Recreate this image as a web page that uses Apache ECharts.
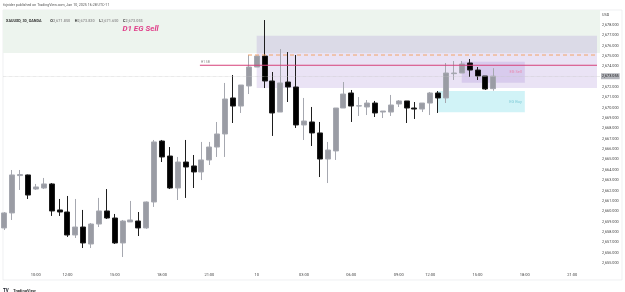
<!DOCTYPE html>
<html>
<head>
<meta charset="utf-8">
<script src="https://cdn.jsdelivr.net/npm/echarts/dist/echarts.min.js"></script>
<style>
  html, body { margin: 0; padding: 0; background: #fff; }
  #main { width: 625px; height: 292px; }
</style>
</head>
<body>
<div id="main"></div>
<script>
// XAUUSD 30m bars, index 0 = 08:00 (Jan 9)
var open = [2658.39, 2659.84, 2663.45, 2663.51, 2662.15, 2662.25, 2662.64, 2660.13, 2659.93, 2657.71,
    2658.48, 2656.84, 2658.77, 2660.03, 2659.35, 2656.94, 2658.97, 2659.06, 2658.39, 2660.90,
    2666.79, 2665.34, 2662.25, 2664.76, 2664.38, 2663.80, 2664.96, 2666.21, 2667.47, 2670.95,
    2670.17, 2672.11, 2673.94, 2675.00, 2672.59, 2669.59, 2672.49, 2672.01, 2668.34, 2668.63,
    2667.57, 2665.05, 2665.83, 2669.98, 2671.43, 2670.17, 2670.08, 2670.46, 2669.59, 2669.59,
    2670.37, 2670.66, 2669.98, 2669.88, 2670.46, 2671.43, 2670.95, 2673.30, 2673.36, 2674.33,
    2673.65, 2673.07, 2671.85];
var close = [2659.84, 2663.51, 2663.55, 2661.57, 2662.35, 2662.64, 2660.03, 2659.93, 2657.71, 2658.48,
    2656.94, 2658.77, 2660.03, 2659.35, 2656.94, 2659.06, 2659.16, 2658.39, 2660.90, 2666.70,
    2665.25, 2662.25, 2664.76, 2664.28, 2663.80, 2664.96, 2666.21, 2667.47, 2670.85, 2670.17,
    2672.20, 2673.94, 2675.00, 2672.59, 2669.50, 2672.40, 2672.01, 2668.34, 2668.72, 2667.57,
    2665.05, 2665.92, 2669.98, 2671.33, 2670.17, 2670.20, 2670.46, 2669.50, 2669.69, 2670.27,
    2670.66, 2669.98, 2669.88, 2670.46, 2671.43, 2670.95, 2673.36, 2673.36, 2674.23, 2673.65,
    2673.07, 2671.82, 2673.055];
var low = [2658.19, 2659.16, 2662.06, 2661.19, 2662.06, 2662.15, 2659.55, 2659.55, 2657.52, 2657.42,
    2656.45, 2656.45, 2658.48, 2659.26, 2656.84, 2655.58, 2658.97, 2657.61, 2658.30, 2660.42,
    2664.76, 2662.15, 2661.09, 2661.29, 2662.25, 2663.02, 2664.47, 2665.25, 2665.25, 2668.53,
    2669.50, 2671.33, 2673.94, 2671.91, 2667.28, 2669.59, 2670.56, 2668.05, 2666.89, 2666.31,
    2663.31, 2662.73, 2664.96, 2669.98, 2668.63, 2669.21, 2669.30, 2669.11, 2669.01, 2669.21,
    2670.08, 2668.53, 2668.92, 2669.59, 2669.30, 2669.50, 2670.46, 2672.69, 2673.36, 2672.98,
    2672.69, 2671.72, 2671.65];
var high = [2659.93, 2663.99, 2663.99, 2663.55, 2662.64, 2663.22, 2662.73, 2661.19, 2661.48, 2661.19,
    2660.13, 2658.87, 2661.29, 2662.15, 2659.74, 2659.16, 2661.00, 2659.93, 2660.95, 2666.89,
    2666.89, 2666.21, 2665.25, 2666.89, 2665.44, 2666.70, 2666.70, 2668.63, 2672.40, 2673.17,
    2672.20, 2675.10, 2675.05, 2678.48, 2673.46, 2675.68, 2675.39, 2675.10, 2670.95, 2670.08,
    2668.63, 2666.70, 2669.98, 2672.49, 2671.72, 2671.04, 2670.75, 2670.66, 2669.69, 2671.24,
    2670.75, 2670.66, 2670.56, 2670.46, 2671.53, 2671.62, 2674.33, 2674.52, 2674.52, 2674.71,
    2673.94, 2673.07, 2673.83];

// time scale labels (bar index -> text)
var tickIndex = [4, 8, 14, 20, 26, 32, 38, 44, 50, 54, 60, 66, 72];
var tickText = ["10:00", "12:00", "15:00", "18:00", "21:00", "10", "03:00", "06:00", "09:00", "12:00", "15:00", "18:00", "21:00"];
var priceTicks = [2655, 2656, 2657, 2658, 2659, 2660, 2661, 2662, 2663, 2664, 2665, 2666,
    2667, 2668, 2669, 2670, 2671, 2672, 2673, 2674, 2675, 2676, 2677, 2678];

// drawn levels / zones
var d1Zone = [2675.29, 2679.45];        // D1 EG Sell
var rangeBox = [32, 2676.97, 2671.91];  // from bar 32 to the right edge
var sbLevel = 2674.11;                  // H1 SB line
var sbStart = 24.8;
var dashLevel = 2675.10;                // orange dashed
var dashStart = 30.9;
var egSell = [58, 66, 2674.45, 2672.43];
var egBuy = [55, 66, 2671.62, 2669.57];

var xMin = -0.165, xMax = 75.53, xEnd = 75.15;
var yMin = 2654.52, yMax = 2679.45;

function fmt(v) {
    return v.toLocaleString("en-US", { minimumFractionDigits: 3, maximumFractionDigits: 3 });
}

var last = open.length - 1;
var candles = open.map(function (o, i) {
    return [i, o, close[i], low[i], high[i]];
});

var font = "Roboto";
var myChart = echarts.init(document.getElementById("main"));
var option = {
    animation: false,
    textStyle: { fontFamily: font },
    title: [
        {
            text: "fxjnider published on TradingView.com, Jan 10, 2025 16:28 UTC-11",
            left: 3, top: 3, padding: 0,
            textStyle: { fontSize: 3.6, fontWeight: "normal", color: "#555", fontFamily: font }
        },
        {
            text: "{s|XAUUSD, 30, OANDA}  {k|O}{v|" + fmt(open[last]) + "} {k|H}{v|" + fmt(high[last]) +
                "} {k|L}{v|" + fmt(low[last]) + "} {k|C}{v|" + fmt(close[last]) + "}",
            left: 6, top: 12, padding: 0,
            textStyle: {
                rich: {
                    s: { fontSize: 3.8, color: "#333", fontFamily: font },
                    k: { fontSize: 3.8, color: "#333", fontFamily: font },
                    v: { fontSize: 3.8, color: "#9a9a9a", fontFamily: font }
                }
            }
        },
        {
            text: "USD",
            left: 602, top: 13, padding: 0,
            textStyle: { fontSize: 3.8, fontWeight: "normal", color: "#444", fontFamily: font }
        },
        {
            text: "{b|TV} {t|TradingView}",
            left: 3, top: 282, padding: 0,
            textStyle: {
                rich: {
                    b: { fontSize: 4.5, fontWeight: "bold", color: "#131722", fontFamily: font },
                    t: { fontSize: 4, color: "#333", fontFamily: font }
                }
            }
        }
    ],
    graphic: [{
        type: "rect",
        shape: { x: 3, y: 10, width: 619, height: 270 },
        style: { fill: "none", stroke: "#e4e6ea", lineWidth: 0.6 },
        silent: true
    }],
    grid: { left: 3, right: 25, top: 10, bottom: 24 },
    xAxis: {
        type: "value",
        min: xMin,
        max: xMax,
        splitLine: { show: false },
        axisLine: { show: false },
        axisTick: { show: false },
        axisLabel: {
            customValues: tickIndex,
            formatter: function (v) {
                return tickText[tickIndex.indexOf(v)];
            },
            fontSize: 4,
            color: "#444",
            margin: 5
        }
    },
    yAxis: {
        type: "value",
        position: "right",
        min: yMin,
        max: yMax,
        splitLine: { show: false },
        axisLine: { show: false },
        axisTick: { show: false },
        axisLabel: {
            customValues: priceTicks,
            formatter: fmt,
            fontSize: 3.8,
            color: "#444",
            margin: 2,
            align: "left"
        }
    },
    series: [
        {
            type: "candlestick",
            data: candles,
            encode: { x: 0, y: [1, 2, 3, 4] },
            barWidth: 5.5,
            clip: true,
            z: 3,
            itemStyle: {
                color: "#9a9ca4",
                color0: "#000000",
                borderColor: "#a6a8b0",
                borderColor0: "#1e1e1e",
                borderWidth: 1
            },
            markArea: {
                silent: true,
                data: [
                    [{
                        yAxis: d1Zone[0],
                        itemStyle: { color: "#edf4ee" },
                        label: {
                            show: true,
                            formatter: "D1 EG Sell",
                            position: ["20%", "45%"],
                            align: "left",
                            verticalAlign: "middle",
                            fontSize: 8,
                            fontStyle: "italic",
                            fontWeight: "bold",
                            color: "#e0408a"
                        }
                    }, { yAxis: d1Zone[1] }],
                    [{
                        coord: [rangeBox[0], rangeBox[1]],
                        itemStyle: { color: "rgba(149,117,205,0.2)" },
                        label: { show: false }
                    }, { coord: [xEnd, rangeBox[2]] }],
                    [{
                        coord: [egSell[0], egSell[2]],
                        itemStyle: { color: "rgba(149,117,205,0.22)" },
                        label: {
                            show: true, formatter: "EG Sell", position: "insideRight", distance: 3,
                            fontSize: 4, color: "#e887ad"
                        }
                    }, { coord: [egSell[1], egSell[3]] }],
                    [{
                        coord: [egBuy[0], egBuy[2]],
                        itemStyle: { color: "rgba(178,235,242,0.6)" },
                        label: {
                            show: true, formatter: "EG Buy", position: "insideRight", distance: 3,
                            fontSize: 4, color: "#80ccd8"
                        }
                    }, { coord: [egBuy[1], egBuy[3]] }]
                ]
            },
            markLine: {
                silent: true,
                symbol: ["none", "none"],
                lineStyle: { type: "dotted", color: "#c4c4c4", width: 0.6 },
                label: {
                    show: true, position: "end", distance: 1,
                    formatter: fmt(close[last]),
                    backgroundColor: "#b4b6bc", color: "#222", fontSize: 3.8,
                    padding: [1, 1]
                },
                data: [{ yAxis: close[last] }]
            }
        },
        // H1 SB level
        {
            type: "line",
            data: [[sbStart, sbLevel], [xEnd, sbLevel]],
            symbol: "none",
            z: 4,
            silent: true,
            color: "#d6407a",
            lineStyle: { color: "#d6407a", width: 1 }
        },
        {
            type: "scatter",
            data: [[sbStart, sbLevel]],
            symbolSize: 0,
            silent: true,
            z: 4,
            label: {
                show: true,
                formatter: "H1 SB",
                position: [1, -5],
                fontSize: 3.2,
                color: "#666"
            }
        },
        // orange dashed level
        {
            type: "line",
            data: [[dashStart, dashLevel], [xEnd, dashLevel]],
            symbol: "none",
            z: 4,
            silent: true,
            color: "#f2a468",
            lineStyle: { color: "#f2a468", width: 1, type: [4, 3] }
        }
    ]
};
myChart.setOption(option);
</script>
</body>
</html>
